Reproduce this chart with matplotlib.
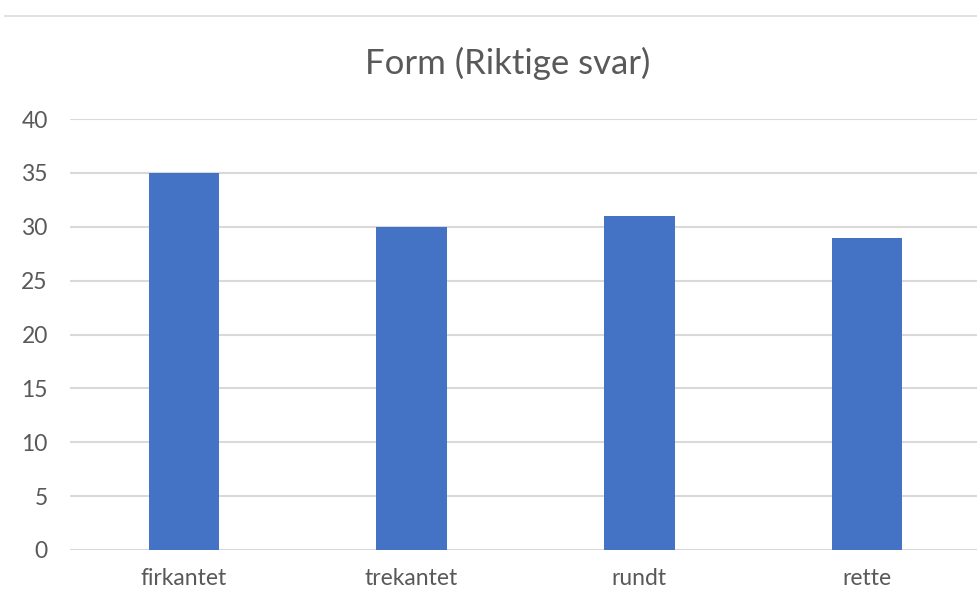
import matplotlib.pyplot as plt
import numpy as np

categories = ['firkantet', 'trekantet', 'rundt', 'rette']
riktige = [35, 30, 31, 29]
yticks = [0, 5, 10, 15, 20, 25, 30, 35, 40]

plt.rcParams['font.family'] = ['Lato', 'DejaVu Sans']

fig = plt.figure(figsize=(9.78, 5.94), dpi=100)
# axes spans a bit past the right edge so the last gridline runs off the frame
ax = fig.add_axes([70 / 978, 44 / 594, 911 / 978, 431 / 594])

x = np.arange(len(categories))
ax.bar(x, riktige, width=0.31, color='#4472C4', zorder=3)

ax.set_xlim(-0.5, len(categories) - 0.5)
ax.set_ylim(0, 40)
ax.set_yticks(yticks)
ax.set_xticks(x)
ax.set_xticklabels(categories)
ax.tick_params(axis='both', length=0, labelsize=16.5, colors='#595959')
ax.tick_params(axis='y', pad=16)
ax.tick_params(axis='x', pad=13)
ax.grid(axis='y', color='#d9d9d9', linewidth=1.5, zorder=0)
for s in ax.spines.values():
    s.set_visible(False)

fig.text(508 / 978, 1 - 63 / 594, 'Form (Riktige svar)', ha='center', va='center',
         fontsize=25, color='#595959')

# thin separator line at the top of the frame
fig.add_artist(plt.Line2D([5 / 978, 1], [1 - 16 / 594, 1 - 16 / 594],
                          color='#dcdcdc', linewidth=1.2, transform=fig.transFigure))

fig.savefig('out.png', dpi=100)
